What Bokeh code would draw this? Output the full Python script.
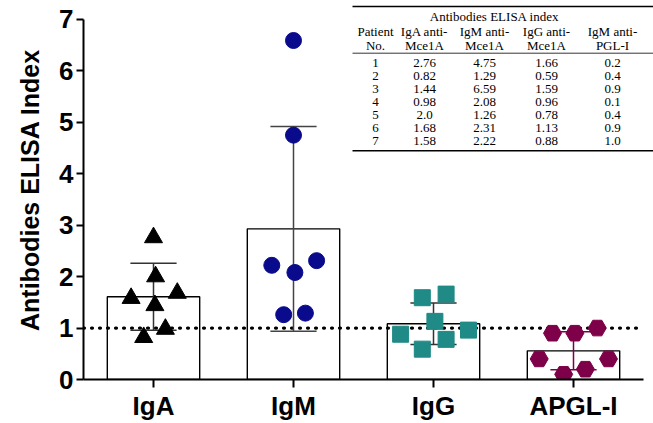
import numpy as np
from bokeh.plotting import figure
from bokeh.models import FixedTicker, Label, ColumnDataSource
from bokeh.embed import file_html
from bokeh.resources import INLINE

# ---- data ----
groups = ["IgA", "IgM", "IgG", "APGL-I"]
patients = [1, 2, 3, 4, 5, 6, 7]
iga = [2.76, 0.82, 1.44, 0.98, 2.0, 1.68, 1.58]
igm = [4.75, 1.29, 6.59, 2.08, 1.26, 2.31, 2.22]
igg = [1.66, 0.59, 1.59, 0.96, 0.78, 1.13, 0.88]
apgl = [0.2, 0.4, 0.9, 0.1, 0.4, 0.9, 1.0]
# horizontal scatter offsets of the points (category units)
jit_iga = [0.0, -0.07, 0.01, 0.085, 0.015, 0.17, -0.16]
jit_igm = [0.0, 0.085, 0.0, 0.01, -0.07, 0.165, -0.155]
jit_igg = [0.09, -0.08, -0.08, 0.25, 0.09, 0.01, -0.235]
jit_apgl = [0.085, -0.245, -0.15, -0.07, 0.25, 0.01, 0.17]
cutoff = 1.0
yticks = [0, 1, 2, 3, 4, 5, 6, 7]

table_title = "Antibodies ELISA index"
table_head1 = ["Patient", "IgA anti-", "IgM anti-", "IgG anti-", "IgM anti-"]
table_head2 = ["No.", "Mce1A", "Mce1A", "Mce1A", "PGL-I"]

series = [iga, igm, igg, apgl]
jits = [jit_iga, jit_igm, jit_igg, jit_apgl]
markers = ["triangle", "circle", "square", "hex"]
colors = ["#000000", "#0a0a8c", "#1f8a86", "#7d0048"]
sizes = [18, 16, 16, 18]
err_colors = ["#333333", "#444444", "#333333", "#7d0048"]

W, H = 653, 423
LEFT, BOTTOM = 83, 42
PX_PER_Y = 51.71
PX_PER_X = 140.0
y_top = 7 + 19 / PX_PER_Y
x_end = 0.5 + (W - LEFT) / PX_PER_X

p = figure(width=W, height=H, output_backend="svg", toolbar_location=None,
           x_range=(0.5, x_end), y_range=(0, y_top),
           min_border_left=LEFT, min_border_right=0, min_border_top=0,
           min_border_bottom=BOTTOM)
p.outline_line_color = None
p.xgrid.visible = False
p.ygrid.visible = False

xs = np.arange(1, 5)
means = [float(np.mean(s)) for s in series]
sds = [float(np.std(s, ddof=1)) for s in series]

# bars
p.vbar(x=xs, top=means, width=0.66, bottom=0, fill_color="white",
       line_color="black", line_width=1.4)

# cutoff dotted line
p.line(x=[0.5, 4.5], y=[cutoff, cutoff], line_color="black", line_width=3.2,
       line_dash="1 7", line_cap="round")

# error bars + points
for i in range(4):
    x = xs[i]
    m, s = means[i], sds[i]
    c = err_colors[i]
    p.segment(x0=[x], y0=[m - s], x1=[x], y1=[m + s], line_color=c, line_width=1.5)
    p.segment(x0=[x - 0.165, x - 0.165], y0=[m - s, m + s],
              x1=[x + 0.165, x + 0.165], y1=[m - s, m + s], line_color=c, line_width=1.5)
    src = ColumnDataSource(dict(x=[x + j for j in jits[i]], y=series[i]))
    p.scatter(x="x", y="y", source=src, marker=markers[i], size=sizes[i],
              fill_color=colors[i], line_color=colors[i])

# axes
p.xaxis.ticker = FixedTicker(ticks=list(xs))
p.xaxis.major_label_overrides = {int(k): g for k, g in zip(xs, groups)}
p.xaxis.bounds = (0.5, 4.5)
p.yaxis.bounds = (0, 7)
p.yaxis.ticker = FixedTicker(ticks=yticks)
for ax in (p.xaxis[0], p.yaxis[0]):
    ax.axis_line_width = 2
    ax.axis_line_color = "black"
    ax.major_tick_line_width = 2
    ax.major_tick_line_color = "black"
    ax.minor_tick_line_color = None
    ax.major_tick_in = 0
    ax.major_label_text_font = "Liberation Sans"
    ax.major_label_text_font_style = "bold"
    ax.major_label_text_font_size = "26px"
    ax.major_label_text_color = "black"
p.xaxis.major_tick_out = 8
p.xaxis.major_label_standoff = 3
p.yaxis.major_tick_out = 7
p.yaxis.major_label_standoff = 3
p.yaxis.axis_label = "Antibodies ELISA Index"
p.yaxis.axis_label_text_font = "Liberation Sans"
p.yaxis.axis_label_text_font_style = "bold"
p.yaxis.axis_label_text_font_size = "25px"
p.yaxis.axis_label_text_color = "black"
p.yaxis.axis_label_standoff = 12

# ---- inset table (positions given in picture pixels, mapped to data) ----
def xd(px):
    return 0.5 + (px - LEFT) / PX_PER_X

def yd(py):
    return (H - BOTTOM - py) / PX_PER_Y

col_x = [375, 424, 484, 546, 612]
font = "Liberation Serif"
fs = "13px"

def add_text(px, py, txt):
    p.add_layout(Label(x=xd(px), y=yd(py), text=txt, text_font=font,
                       text_font_size=fs, text_align="center",
                       text_baseline="middle", text_color="black"))

add_text(494, 16, table_title)
for cx, h1, h2 in zip(col_x, table_head1, table_head2):
    add_text(cx, 31, h1)
    add_text(cx, 45, h2)
row_y = [63, 76, 89, 102, 115, 128, 141]
for k in range(len(patients)):
    vals = [str(patients[k]), str(iga[k]), str(igm[k]), str(igg[k]), str(apgl[k])]
    for cx, v in zip(col_x, vals):
        add_text(cx, row_y[k], v)

p.segment(x0=[xd(352), xd(352), xd(352)], y0=[yd(6), yd(53), yd(151)],
          x1=[xd(653), xd(653), xd(653)], y1=[yd(6), yd(53), yd(151)],
          line_color="black", line_width=[1.5, 0.8, 1.5])

open("out.html", "w").write(file_html(p, INLINE))
